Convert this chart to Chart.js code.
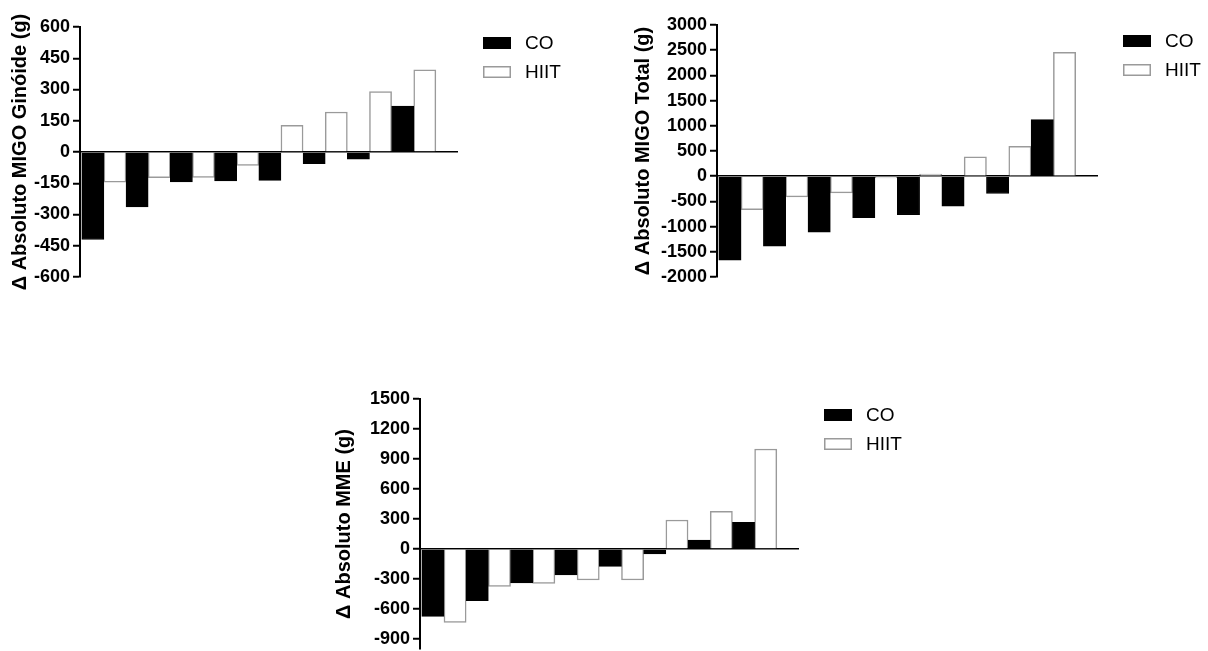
<!DOCTYPE html>
<html>
<head>
<meta charset="utf-8">
<script src="https://cdn.jsdelivr.net/npm/chart.js@4.4.1/dist/chart.umd.min.js"></script>
<style>
    html, body { margin: 0; padding: 0; background: #fff; overflow: hidden; }
    body { width: 1208px; height: 651px; position: relative; }
    canvas { position: absolute; }
</style>
</head>
<body>
<canvas id="chartGinoide" width="600" height="300" style="left:0px;top:0px"></canvas>
<canvas id="chartTotal" width="608" height="300" style="left:600px;top:0px"></canvas>
<canvas id="chartMME" width="600" height="300" style="left:320px;top:370px"></canvas>
<script>
// Paired positions (one CO bar + one HIIT bar each)
const pairs = [1, 2, 3, 4, 5, 6, 7, 8];
const seriesNames = ['CO', 'HIIT'];

// Δ Absoluto MIGO Ginóide (g)
const ginoideCO = [-420, -264, -144, -139, -136, -56, -35, 220];
const ginoideHIIT = [-145, -123, -122, -64, 128, 192, 290, 395];
const ginoideTicks = [-600, -450, -300, -150, 0, 150, 300, 450, 600];

// Δ Absoluto MIGO Total (g)
const totalCO = [-1667, -1390, -1111, -822, -762, -595, -344, 1124];
const totalHIIT = [-662, -410, -331, -33, 40, 384, 595, 2460];
const totalTicks = [-2000, -1500, -1000, -500, 0, 500, 1000, 1500, 2000, 2500, 3000];

// Δ Absoluto MME (g)
const mmeCO = [-673, -517, -340, -260, -173, -50, 90, 267];
const mmeHIIT = [-733, -373, -343, -310, -310, 290, 377, 1000];
const mmeTicks = [-900, -600, -300, 0, 300, 600, 900, 1200, 1500];

const FONT = '"Liberation Sans", Arial, sans-serif';

// Legend drawn to the right of the plot (box + label per dataset)
const sideLegend = {
    id: 'sideLegend',
    afterDraw(chart, args, opts) {
        const { ctx, chartArea } = chart;
        ctx.save();
        ctx.font = '19px ' + FONT;
        ctx.textBaseline = 'middle';
        ctx.textAlign = 'left';
        chart.data.datasets.forEach((ds, i) => {
            const x = chartArea.right + opts.offsetX;
            const y = chartArea.top + opts.offsetY + i * opts.rowGap;
            ctx.fillStyle = ds.backgroundColor;
            ctx.fillRect(x, y, opts.boxW, opts.boxH);
            ctx.lineWidth = 1.5;
            ctx.strokeStyle = ds.borderColor;
            ctx.strokeRect(x + 0.75, y + 0.75, opts.boxW - 1.5, opts.boxH - 1.5);
            ctx.fillStyle = '#000';
            ctx.fillText(ds.label, x + opts.boxW + opts.gap, y + opts.boxH / 2 + 1);
        });
        ctx.restore();
    }
};

function makeChart(id, title, coVals, hiitVals, tickVals, yMin, yMax, axisWidth, titlePad, padding) {
    const toPoints = vals => pairs.map((p, i) => ({ x: p, y: vals[i] }));
    return new Chart(document.getElementById(id), {
        type: 'bar',
        data: {
            datasets: [{
                label: seriesNames[0],
                data: toPoints(coVals),
                backgroundColor: '#000',
                borderColor: '#000',
                borderWidth: 1
            }, {
                label: seriesNames[1],
                data: toPoints(hiitVals),
                backgroundColor: '#fff',
                borderColor: '#9a9a9a',
                borderWidth: 1.5
            }]
        },
        options: {
            responsive: false,
            animation: false,
            layout: { padding: padding },
            datasets: { bar: { barPercentage: 1, categoryPercentage: 1 } },
            plugins: {
                legend: { display: false },
                tooltip: { enabled: false },
                sideLegend: { offsetX: 25, offsetY: 10, boxW: 28, boxH: 12, gap: 14, rowGap: 29 }
            },
            scales: {
                x: {
                    type: 'linear',
                    display: false,
                    offset: false,
                    bounds: 'data',
                    min: 0.46,
                    max: 9,
                    afterBuildTicks: s => { s.ticks = pairs.map(v => ({ value: v })); }
                },
                y: {
                    min: yMin,
                    max: yMax,
                    afterBuildTicks: s => { s.ticks = tickVals.map(v => ({ value: v })); },
                    afterFit: s => { s.width = axisWidth; },
                    border: { display: true, color: '#000', width: 2 },
                    grid: {
                        color: c => (c.tick && c.tick.value === 0) ? '#000' : 'rgba(0,0,0,0)',
                        lineWidth: 1.5,
                        tickColor: '#000',
                        tickWidth: 2,
                        tickLength: 7
                    },
                    ticks: {
                        color: '#000',
                        padding: 3,
                        font: { family: FONT, size: 18, weight: 'bold' },
                        callback: v => String(v)
                    },
                    title: {
                        display: true,
                        text: title,
                        color: '#000',
                        font: { family: FONT, size: 20, weight: 'bold' },
                        padding: { top: titlePad, bottom: 0 }
                    }
                }
            }
        },
        plugins: [sideLegend]
    });
}

document.addEventListener('DOMContentLoaded', () => {
    makeChart('chartGinoide', 'Δ Absoluto MIGO Ginóide (g)', ginoideCO, ginoideHIIT, ginoideTicks,
        -600, 600, 80, 8, { left: 0, top: 27, right: 142, bottom: 23 });
    makeChart('chartTotal', 'Δ Absoluto MIGO Total (g)', totalCO, totalHIIT, totalTicks,
        -2000, 3000, 117, 31, { left: 0, top: 25, right: 110, bottom: 23 });
    makeChart('chartMME', 'Δ Absoluto MME (g)', mmeCO, mmeHIIT, mmeTicks,
        -1000, 1500, 100, 12, { left: 0, top: 29, right: 121, bottom: 21 });
});
</script>
</body>
</html>
